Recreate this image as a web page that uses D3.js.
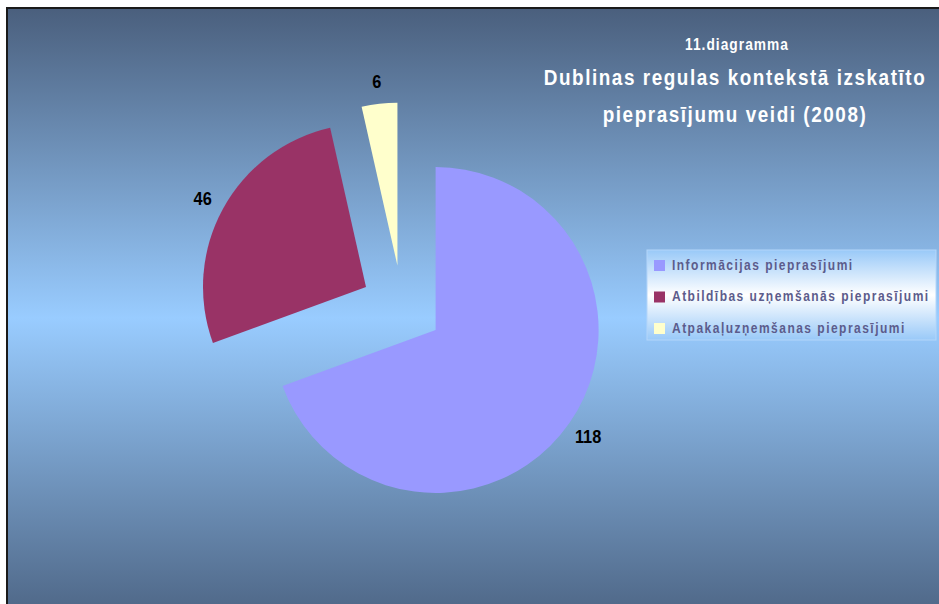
<!DOCTYPE html>
<html>
<head>
<meta charset="utf-8">
<script src="https://cdn.jsdelivr.net/npm/d3@7"></script>
<style>
  body { margin: 0; background: #fff; }
  svg text { font-family: "Liberation Sans", Arial, sans-serif; font-weight: bold; }
</style>
</head>
<body>
<div id="chart"></div>
<script>
(function() {

  var width = 939;
  var height = 604;

  // data
  var categories = ["Informācijas pieprasījumi", "Atbildības uzņemšanās pieprasījumi", "Atpakaļuzņemšanas pieprasījumi"];
  var values = [118, 46, 6];
  var colors = ["#9999ff", "#993366", "#ffffcc"];
  var titleLines = ["Dublinas regulas kontekstā izskatīto", "pieprasījumu veidi (2008)"];
  var subTitle = "11.diagramma";

  var cx = 402, cy = 306.5;
  var radius = 163;
  var explode = 41;
  var labelRadius = 186;
  var narrow = 0.86; // text is drawn condensed like the original

  var svg = d3.select("#chart")
    .append("svg")
    .attr("width", width)
    .attr("height", height);

  var defs = svg.append("defs");

  var bg = defs.append("linearGradient")
    .attr("id", "bg")
    .attr("x1", 0).attr("y1", 0).attr("x2", 0).attr("y2", 1);
  bg.append("stop").attr("offset", "0%").attr("stop-color", "#4a5f7d");
  bg.append("stop").attr("offset", "50%").attr("stop-color", "#99ccff");
  bg.append("stop").attr("offset", "100%").attr("stop-color", "#4b6281");

  var lg = defs.append("linearGradient")
    .attr("id", "lg")
    .attr("x1", 0).attr("y1", 0).attr("x2", 0).attr("y2", 1);
  lg.append("stop").attr("offset", "0%").attr("stop-color", "#99c9f8");
  lg.append("stop").attr("offset", "50%").attr("stop-color", "#ffffff");
  lg.append("stop").attr("offset", "100%").attr("stop-color", "#99c9f8");

  // chart area with border on the visible sides
  svg.append("rect")
    .attr("x", 7).attr("y", 8)
    .attr("width", 960).attr("height", 620)
    .attr("fill", "url(#bg)")
    .attr("stroke", "#1a1a1a")
    .attr("stroke-width", 2);

  // titles
  svg.append("text")
    .attr("transform", `translate(737,50) scale(${narrow},1)`)
    .attr("text-anchor", "middle")
    .attr("fill", "#fff")
    .style("font-size", "16px")
    .style("letter-spacing", "1.2px")
    .text(subTitle);

  svg.append("g").selectAll("text")
    .data(titleLines)
    .join("text")
      .attr("transform", (d, i) => `translate(735,${85 + i * 37}) scale(${narrow},1)`)
      .attr("text-anchor", "middle")
      .attr("fill", "#fff")
      .style("font-size", "22px")
      .style("letter-spacing", "1.8px")
      .text(d => d);

  // pie
  var pie = d3.pie().sort(null).value(d => d);
  var arcs = pie(values);
  var arc = d3.arc().innerRadius(0).outerRadius(radius);
  var labelArc = d3.arc().innerRadius(labelRadius).outerRadius(labelRadius);

  function offset(d) {
    var a = (d.startAngle + d.endAngle) / 2;
    return [cx + explode * Math.sin(a), cy - explode * Math.cos(a)];
  }

  var slices = svg.append("g")
    .selectAll("g")
    .data(arcs)
    .join("g")
      .attr("transform", d => `translate(${offset(d)})`);

  slices.append("path")
    .attr("d", arc)
    .attr("fill", (d, i) => colors[i]);

  slices.append("text")
    .attr("transform", d => `translate(${labelArc.centroid(d)}) scale(${narrow},1)`)
    .attr("text-anchor", "middle")
    .attr("dy", "0.35em")
    .attr("fill", "#000")
    .style("font-size", "19px")
    .text(d => d.value);

  // legend
  var legend = svg.append("g");
  legend.append("rect")
    .attr("x", 647).attr("y", 250)
    .attr("width", 289).attr("height", 90)
    .attr("fill", "url(#lg)")
    .attr("stroke", "#b4d6fa")
    .attr("stroke-width", 1);

  var items = legend.selectAll("g.item")
    .data(categories)
    .join("g")
      .attr("class", "item")
      .attr("transform", (d, i) => `translate(654,${265 + i * 31.5})`);

  items.append("rect")
    .attr("x", 0).attr("y", -5)
    .attr("width", 11).attr("height", 11)
    .attr("fill", (d, i) => colors[i]);

  items.append("text")
    .attr("transform", `translate(18,0) scale(${narrow},1)`)
    .attr("dy", "0.35em")
    .attr("fill", "#5c5c8c")
    .style("font-size", "14px")
    .style("letter-spacing", "1.7px")
    .text(d => d);

})();
</script>
</body>
</html>
